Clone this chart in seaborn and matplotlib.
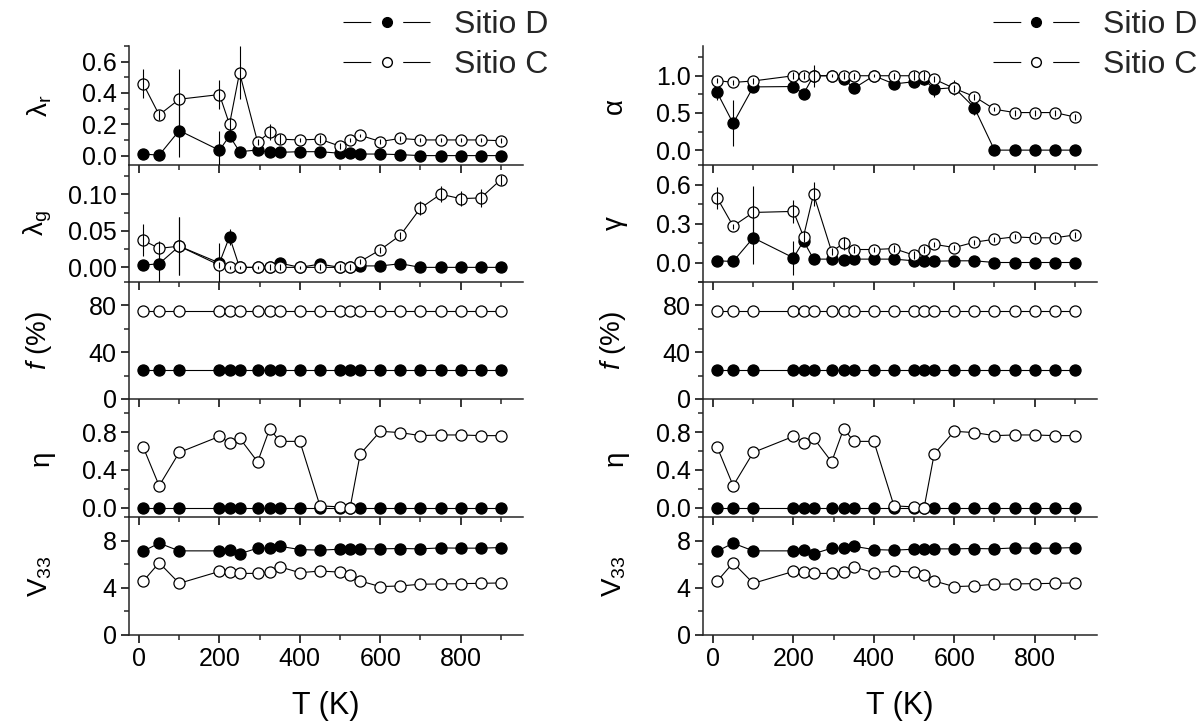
import numpy as np
import pandas as pd
import matplotlib
matplotlib.use("Agg")
import matplotlib.pyplot as plt
from matplotlib.lines import Line2D
from matplotlib.ticker import MultipleLocator, FormatStrFormatter
import seaborn as sns

# ---------------- data ----------------
temps = [10, 50, 100, 200, 225, 250, 295, 325, 350, 400, 450, 500, 525, 550,
         600, 650, 700, 750, 800, 850, 900]

lr_D = [0.01, 0.003, 0.16, 0.034, 0.126, 0.025, 0.036, 0.021, 0.021, 0.025, 0.025,
        0.015, 0.015, 0.01, 0.01, 0.006, 0.0, 0.0, 0.0, 0.0, 0.0]
lr_D_err = [0.01, 0.01, 0.17, 0.12, 0.03, 0.01, 0.01, 0.01, 0.01, 0.01, 0.01,
            0.01, 0.01, 0.005, 0.005, 0.005, 0.005, 0.005, 0.005, 0.005, 0.005]
lr_C = [0.46, 0.26, 0.36, 0.39, 0.20, 0.53, 0.085, 0.15, 0.105, 0.10, 0.105,
        0.06, 0.10, 0.13, 0.09, 0.11, 0.10, 0.10, 0.10, 0.10, 0.095]
lr_C_err = [0.09, 0.03, 0.19, 0.09, 0.04, 0.17, 0.02, 0.05, 0.03, 0.01, 0.025,
            0.02, 0.015, 0.01, 0.015, 0.015, 0.015, 0.015, 0.015, 0.015, 0.015]

lg_D = [0.003, 0.005, 0.029, 0.006, 0.042, 0.0, 0.0, 0.0, 0.006, 0.0, 0.0045,
        0.0, 0.0, 0.002, 0.002, 0.005, 0.0, 0.0, 0.0, 0.0, 0.0]
lg_D_err = [0.003, 0.025, 0.04, 0.028, 0.011, 0.002, 0.002, 0.002, 0.002, 0.002, 0.002,
            0.002, 0.002, 0.002, 0.002, 0.002, 0.002, 0.002, 0.002, 0.002, 0.002]
lg_C = [0.037, 0.026, 0.029, 0.003, 0.0, 0.0, 0.0, 0.0, 0.0, 0.0, 0.0,
        0.0, 0.0, 0.008, 0.024, 0.044, 0.081, 0.10, 0.094, 0.095, 0.12]
lg_C_err = [0.022, 0.01, 0.04, 0.004, 0.002, 0.002, 0.002, 0.004, 0.004, 0.002, 0.004,
            0.004, 0.004, 0.003, 0.004, 0.005, 0.01, 0.011, 0.01, 0.012, 0.007]

f_D = [25] * 21
f_C = [75] * 21

eta_D = [0.0] * 21
eta_C = [0.644, 0.231, 0.584, 0.754, 0.687, 0.737, 0.484, 0.836, 0.701, 0.701, 0.018,
         0.007, 0.0, 0.566, 0.808, 0.794, 0.762, 0.769, 0.769, 0.762, 0.762]

v33_D = [7.10, 7.78, 7.13, 7.13, 7.24, 6.88, 7.36, 7.36, 7.52, 7.24, 7.19,
         7.27, 7.30, 7.30, 7.30, 7.33, 7.30, 7.38, 7.36, 7.36, 7.41]
v33_C = [4.55, 6.12, 4.38, 5.39, 5.31, 5.22, 5.22, 5.36, 5.78, 5.28, 5.42,
         5.33, 5.08, 4.58, 4.10, 4.16, 4.30, 4.33, 4.35, 4.38, 4.41]

alpha_D = [0.777, 0.36, 0.85, 0.855, 0.755, 1.0, 1.0, 0.96, 0.83, 1.0, 0.89,
           0.92, 0.95, 0.82, 0.84, 0.57, 0.0, 0.0, 0.0, 0.0, 0.0]
alpha_D_err = [0.1, 0.31, 0.04, 0.07, 0.03, 0.03, 0.03, 0.05, 0.03, 0.02, 0.06,
               0.05, 0.07, 0.1, 0.1, 0.1, 0.01, 0.01, 0.01, 0.01, 0.01]
alpha_C = [0.936, 0.91, 0.93, 1.0, 1.0, 1.0, 1.0, 1.0, 1.0, 1.0, 1.0,
           1.0, 1.0, 0.955, 0.83, 0.72, 0.55, 0.505, 0.505, 0.505, 0.445]
alpha_C_err = [0.04, 0.03, 0.04, 0.05, 0.05, 0.15, 0.02, 0.05, 0.04, 0.02, 0.04,
               0.06, 0.06, 0.04, 0.05, 0.04, 0.03, 0.04, 0.04, 0.04, 0.04]

gamma_D = [0.013, 0.008, 0.19, 0.036, 0.166, 0.026, 0.026, 0.023, 0.026, 0.026, 0.026,
           0.013, 0.013, 0.01, 0.013, 0.013, 0.0, 0.0, 0.0, 0.0, 0.0]
gamma_D_err = [0.01, 0.01, 0.2, 0.13, 0.03, 0.01, 0.01, 0.01, 0.01, 0.01, 0.01,
               0.01, 0.01, 0.01, 0.01, 0.01, 0.005, 0.005, 0.005, 0.005, 0.005]
gamma_C = [0.498, 0.28, 0.385, 0.393, 0.20, 0.526, 0.084, 0.148, 0.10, 0.10, 0.107,
           0.056, 0.10, 0.14, 0.115, 0.156, 0.179, 0.197, 0.19, 0.19, 0.212]
gamma_C_err = [0.085, 0.02, 0.2, 0.09, 0.04, 0.09, 0.03, 0.05, 0.03, 0.02, 0.03,
               0.03, 0.03, 0.02, 0.02, 0.02, 0.02, 0.02, 0.02, 0.02, 0.02]

legend_labels = ["Sitio D", "Sitio C"]
x_label = "T (K)"
x_ticks = [0, 200, 400, 600, 800]

# ---------------- style ----------------
sns.set_theme(style="ticks")
plt.rcParams["font.family"] = ["Liberation Sans", "DejaVu Sans"]
plt.rcParams["mathtext.fontset"] = "custom"
plt.rcParams["mathtext.rm"] = "Liberation Sans"
plt.rcParams["mathtext.it"] = "Liberation Sans:italic"
plt.rcParams["axes.linewidth"] = 1.1
plt.rcParams["lines.scale_dashes"] = False
TICK_FS = 18
LAB_FS = 20
LEG_FS = 23

fig = plt.figure(figsize=(11.98, 7.21), dpi=100)

W = 1198.0
H = 721.0
col_x = [129 / W, 703 / W]
col_w = 394 / W
row_px = [(46, 165), (165, 282), (282, 399), (399, 517), (517, 635)]

left_panels = [
    (r"λ$_{\mathregular{r}}$", lr_D, lr_D_err, lr_C, lr_C_err, (-0.06, 0.70), 0.2, 0.1, "%.1f"),
    (r"λ$_{\mathregular{g}}$", lg_D, lg_D_err, lg_C, lg_C_err, (-0.02, 0.14), 0.05, 0.025, "%.2f"),
    (r"$\it{f}$ (%)", f_D, None, f_C, None, (0, 100), 40, 20, "%d"),
    ("η", eta_D, None, eta_C, None, (-0.1, 1.15), 0.4, 0.2, "%.1f"),
    (r"V$_{\mathregular{33}}$", v33_D, None, v33_C, None, (0, 10), 4, 2, "%d"),
]
right_panels = [
    ("α", alpha_D, alpha_D_err, alpha_C, alpha_C_err, (-0.2, 1.4), 0.5, 0.25, "%.1f"),
    ("γ", gamma_D, gamma_D_err, gamma_C, gamma_C_err, (-0.15, 0.75), 0.3, 0.15, "%.1f"),
    (r"$\it{f}$ (%)", f_D, None, f_C, None, (0, 100), 40, 20, "%d"),
    ("η", eta_D, None, eta_C, None, (-0.1, 1.15), 0.4, 0.2, "%.1f"),
    (r"V$_{\mathregular{33}}$", v33_D, None, v33_C, None, (0, 10), 4, 2, "%d"),
]


def draw_series(ax, y, err, filled, z):
    df = pd.DataFrame({"T": temps, "v": y})
    sns.lineplot(data=df, x="T", y="v", ax=ax, color="black", lw=0.8,
                 marker="o", markersize=8,
                 markerfacecolor="black" if filled else "white",
                 markeredgecolor="black", markeredgewidth=0.9,
                 estimator=None, sort=False, legend=False, zorder=z)
    if err is not None:
        ax.errorbar(temps, y, yerr=err, fmt="none", ecolor="black",
                    elinewidth=0.8, capsize=0, zorder=z + 0.5)


for ci, panels in enumerate([left_panels, right_panels]):
    for ri, (lab, yD, eD, yC, eC, ylim, maj, mnr, fmt) in enumerate(panels):
        top, bot = row_px[ri]
        ax = fig.add_axes([col_x[ci], 1 - bot / H, col_w, (bot - top) / H])
        ax.set_facecolor("none")
        draw_series(ax, yD, eD, True, 3)
        draw_series(ax, yC, eC, False, 5)
        ax.set_xlim(-25, 955)
        ax.set_ylim(*ylim)
        ax.xaxis.set_major_locator(MultipleLocator(200))
        ax.xaxis.set_minor_locator(MultipleLocator(100))
        ax.yaxis.set_major_locator(MultipleLocator(maj))
        ax.yaxis.set_minor_locator(MultipleLocator(mnr))
        ax.yaxis.set_major_formatter(FormatStrFormatter(fmt))
        for s in ["top", "right"]:
            ax.spines[s].set_visible(False)
        ax.tick_params(axis="both", which="major", direction="out", length=6,
                       width=1.1, labelsize=TICK_FS, colors="black", pad=3)
        ax.tick_params(axis="both", which="minor", direction="out", length=3.5,
                       width=1.1)
        ax.set_ylabel(lab, fontsize=LAB_FS, color="black")
        ax.yaxis.set_label_coords(-0.19, 0.5)
        if ri < 4:
            ax.tick_params(axis="x", which="both", labelbottom=False)
            ax.set_xlabel("")
        else:
            ax.set_xticks(x_ticks)
            ax.set_xlabel(x_label, fontsize=LEG_FS - 1, color="black", labelpad=14)

    handles = [
        Line2D([0], [0], color="black", lw=0.8, dashes=(20, 23), marker="o",
               markersize=7, markerfacecolor="black", markeredgecolor="black"),
        Line2D([0], [0], color="black", lw=0.8, dashes=(20, 23), marker="o",
               markersize=7, markerfacecolor="white", markeredgecolor="black"),
    ]
    anchor = (0.284, 0.99) if ci == 0 else (0.826, 0.99)
    fig.legend(handles, legend_labels, loc="upper left", bbox_to_anchor=anchor,
               frameon=False, fontsize=LEG_FS, handlelength=2.7,
               handletextpad=0.75, labelspacing=0.3, borderpad=0.1,
               borderaxespad=0)

fig.savefig("out.png", dpi=100)
